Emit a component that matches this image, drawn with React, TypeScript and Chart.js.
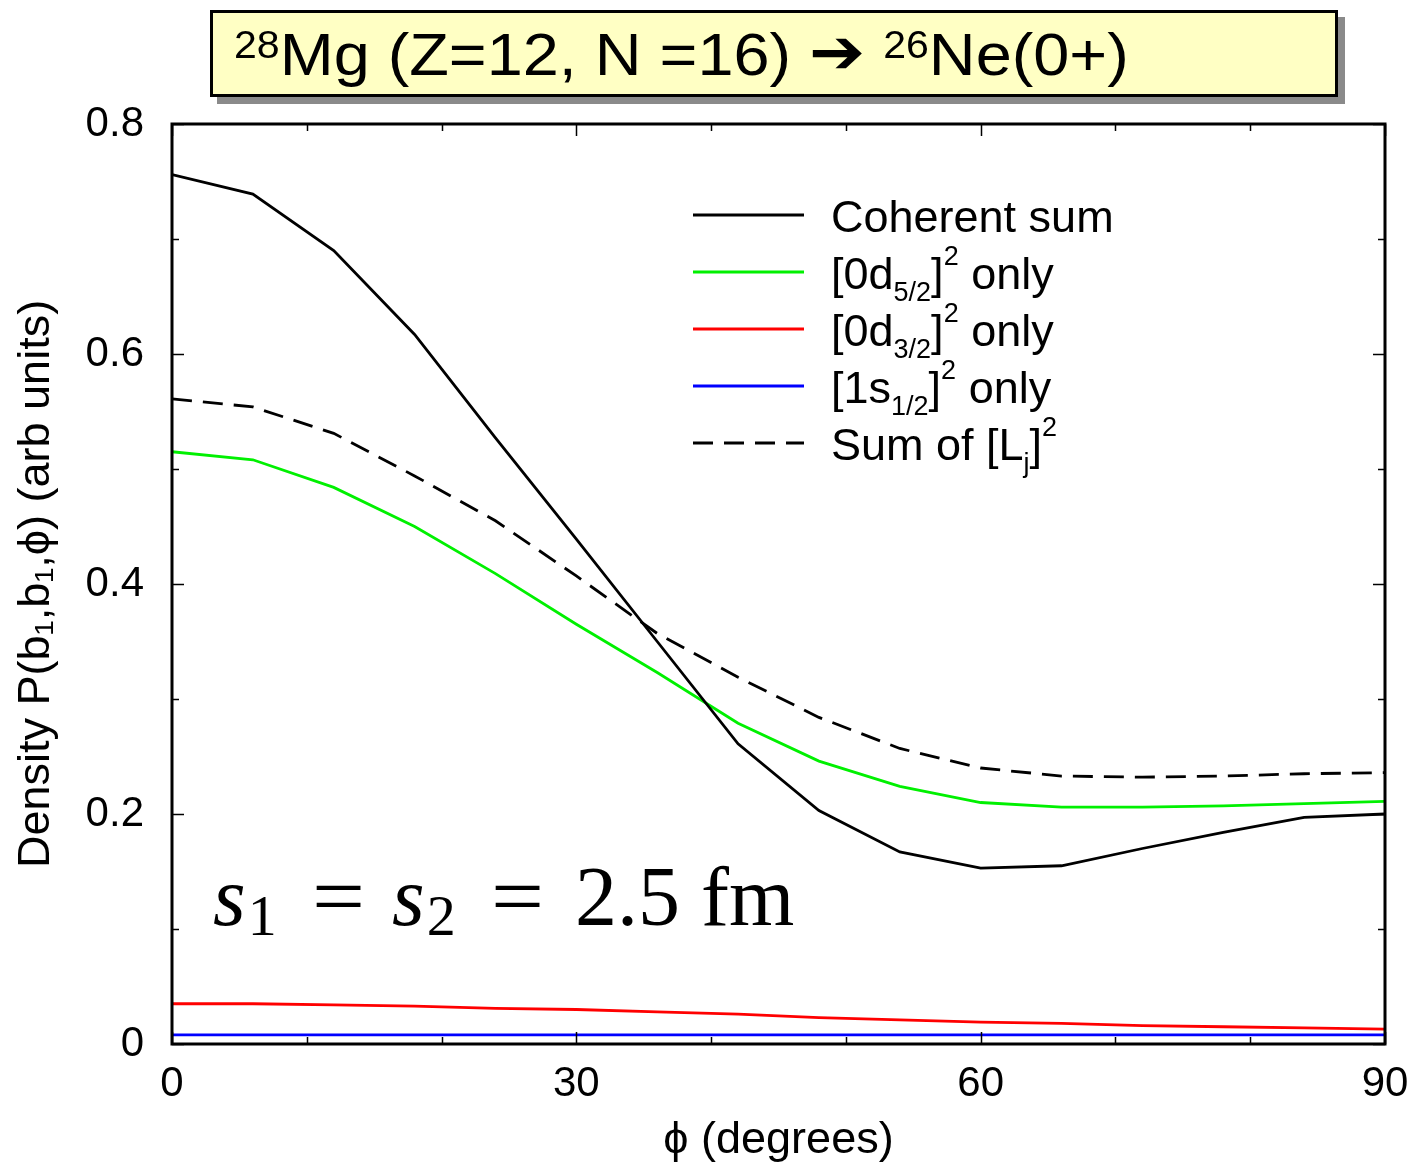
import React, { useEffect, useRef } from "react";
import { Chart, registerables } from "chart.js";

Chart.register(...registerables);

// ---- data ----
const phiDeg = [0, 6, 12, 18, 24, 30, 36, 42, 48, 54, 60, 66, 72, 78, 84, 90];
const coherentSum = [0.756, 0.739, 0.69, 0.617, 0.527, 0.439, 0.35, 0.261, 0.203, 0.167, 0.153, 0.155, 0.17, 0.184, 0.197, 0.2];
const d52Only = [0.515, 0.508, 0.484, 0.45, 0.409, 0.365, 0.323, 0.279, 0.246, 0.224, 0.21, 0.206, 0.206, 0.207, 0.209, 0.211];
const d32Only = [0.035, 0.035, 0.034, 0.033, 0.031, 0.03, 0.028, 0.026, 0.023, 0.021, 0.019, 0.018, 0.016, 0.015, 0.014, 0.013];
const s12Only = [0.008, 0.008, 0.008, 0.008, 0.008, 0.008, 0.008, 0.008, 0.008, 0.008, 0.008, 0.008, 0.008, 0.008, 0.008, 0.008];
const sumLj = [0.561, 0.554, 0.531, 0.494, 0.455, 0.407, 0.357, 0.319, 0.284, 0.257, 0.24, 0.233, 0.232, 0.233, 0.235, 0.236];

const xTickValues = [0, 30, 60, 90];
const yTickValues = [0, 0.2, 0.4, 0.6, 0.8];
const xMinorTicks = [0, 10, 20, 30, 40, 50, 60, 70, 80, 90];
const yMinorTicks = [0, 0.1, 0.2, 0.3, 0.4, 0.5, 0.6, 0.7, 0.8];

const seriesNames = ["Coherent sum", "[0d5/2]^2 only", "[0d3/2]^2 only", "[1s1/2]^2 only", "Sum of [Lj]^2"];
const seriesColors = ["#000000", "#00f000", "#ff0000", "#0000ff", "#000000"];

const SANS = "'Liberation Sans', Arial, Helvetica, sans-serif";
const SERIF = "'Liberation Serif', 'DejaVu Serif', serif";

const W = 1412;
const H = 1168;

const framePlugin = {
  id: "frame",
  afterDraw(chart: any) {
    const { ctx, chartArea } = chart;
    const xs = chart.scales.x;
    const ys = chart.scales.y;
    const { left, right, top, bottom } = chartArea;
    ctx.save();
    ctx.strokeStyle = "#000";
    ctx.lineWidth = 1.5;
    xMinorTicks.forEach((v) => {
      const px = Math.round(xs.getPixelForValue(v)) + 0.5;
      const len = v % 30 === 0 ? 12 : 7;
      ctx.beginPath();
      ctx.moveTo(px, bottom);
      ctx.lineTo(px, bottom - len);
      ctx.moveTo(px, top);
      ctx.lineTo(px, top + len);
      ctx.stroke();
    });
    yMinorTicks.forEach((v) => {
      const py = Math.round(ys.getPixelForValue(v)) + 0.5;
      const major = Math.abs(Math.round(v * 10) % 2) === 0;
      const len = major ? 12 : 7;
      ctx.beginPath();
      ctx.moveTo(left, py);
      ctx.lineTo(left + len, py);
      ctx.moveTo(right, py);
      ctx.lineTo(right - len, py);
      ctx.stroke();
    });
    ctx.lineWidth = 3;
    ctx.strokeRect(left, top, right - left, bottom - top);

    // legend samples
    const lx0 = 693;
    const lx1 = 804;
    const ly0 = 215;
    const dy = 57;
    chart.data.datasets.forEach((ds: any, i: number) => {
      const y = ly0 + i * dy;
      ctx.beginPath();
      ctx.lineWidth = ds.borderWidth;
      ctx.strokeStyle = ds.borderColor;
      ctx.setLineDash(ds.borderDash || []);
      ctx.moveTo(lx0, y);
      ctx.lineTo(lx1, y);
      ctx.stroke();
    });
    ctx.restore();
  },
};

function toPoints(vals: number[]) {
  return phiDeg.map((x, i) => ({ x, y: vals[i] }));
}

function ChartCanvas() {
  const ref = useRef<HTMLCanvasElement | null>(null);
  useEffect(() => {
    if (!ref.current) return;
    const allSeries = [coherentSum, d52Only, d32Only, s12Only, sumLj];
    const chart = new Chart(ref.current, {
      type: "line",
      data: {
        datasets: allSeries.map((vals, i) => ({
          label: seriesNames[i],
          data: toPoints(vals),
          borderColor: seriesColors[i],
          borderWidth: 2.8,
          borderDash: i === 4 ? [20, 11] : [],
          pointRadius: 0,
          tension: 0,
          fill: false,
        })),
      },
      options: {
        responsive: false,
        animation: false,
        devicePixelRatio: 1,
        layout: { padding: { left: 0, right: 27, top: 124, bottom: 0 } },
        plugins: {
          legend: { display: false },
          tooltip: { enabled: false },
          title: { display: false },
        },
        scales: {
          x: {
            type: "linear",
            min: 0,
            max: 90,
            afterFit: (s: any) => {
              s.height = 124;
              s.paddingLeft = 0;
              s.paddingRight = 0;
            },
            afterBuildTicks: (s: any) => {
              s.ticks = xTickValues.map((v) => ({ value: v }));
            },
            grid: { display: false, drawTicks: false },
            border: { display: false },
            ticks: {
              padding: 15,
              color: "#000",
              font: { family: SANS, size: 42 },
              maxRotation: 0,
              callback: (v: any) => String(v),
            },
            title: {
              display: true,
              text: "ϕ (degrees)",
              color: "#000",
              font: { family: SANS, size: 45 },
              padding: { top: 0, bottom: 0 },
            },
          },
          y: {
            type: "linear",
            min: 0,
            max: 0.8,
            afterFit: (s: any) => {
              s.width = 172;
              s.paddingTop = 0;
              s.paddingBottom = 0;
            },
            afterBuildTicks: (s: any) => {
              s.ticks = yTickValues.map((v) => ({ value: v }));
            },
            grid: { display: false, drawTicks: false },
            border: { display: false },
            ticks: {
              padding: 28,
              color: "#000",
              font: { family: SANS, size: 42 },
              callback: (v: any) => (Number(v) === 0 ? "0" : Number(v).toFixed(1)),
            },
            title: {
              display: true,
              text: "Density P(b₁,b₁,ϕ) (arb units)",
              color: "#000",
              font: { family: SANS, size: 45 },
              padding: { top: 10, bottom: 0 },
            },
          },
        },
      },
      plugins: [framePlugin],
    } as any);
    return () => chart.destroy();
  }, []);
  return <canvas ref={ref} width={W} height={H} style={{ display: "block", width: W, height: H }} />;
}

const legendRowStyle = (i: number): React.CSSProperties => ({
  position: "absolute",
  left: 831,
  top: 194 + i * 57,
  fontFamily: SANS,
  fontSize: 45,
  lineHeight: 1,
  whiteSpace: "nowrap",
  color: "#000",
});

const subS: React.CSSProperties = { fontSize: 27, position: "relative", top: 12, verticalAlign: "baseline" };
const supS: React.CSSProperties = { fontSize: 27, position: "relative", top: -24, verticalAlign: "baseline" };

const annBase: React.CSSProperties = {
  position: "absolute",
  top: 855,
  fontFamily: SERIF,
  fontSize: 84,
  lineHeight: 1,
  whiteSpace: "nowrap",
  color: "#000",
};
const annSub: React.CSSProperties = { fontSize: 58, position: "relative", top: 10, marginLeft: 2 };

export default function App() {
  return (
    <div style={{ position: "absolute", left: 0, top: 0, width: W, height: H, background: "#fff", overflow: "hidden" }}>
      <ChartCanvas />
      {/* title box */}
      <div
        style={{
          position: "absolute",
          left: 210,
          top: 10,
          width: 1122,
          height: 81,
          border: "3px solid #000",
          background: "#ffffc4",
          boxShadow: "7px 7px 0 #8a8a8a",
          whiteSpace: "nowrap",
          color: "#000",
        }}
      >
        <div
          style={{
            position: "absolute",
            left: 21,
            top: 0,
            fontFamily: SANS,
            fontSize: 60,
            lineHeight: "82px",
            transform: "scaleX(1.08)",
            transformOrigin: "left center",
          }}
        >
          <span style={{ fontSize: 38, position: "relative", top: -17 }}>28</span>Mg (Z=12, N =16){" "}
          <span style={{ fontFamily: "'DejaVu Sans', sans-serif", fontSize: 62, position: "relative", top: -2 }}>➔</span>{" "}
          <span style={{ fontSize: 38, position: "relative", top: -17 }}>26</span>Ne(0+)
        </div>
      </div>
      {/* legend texts */}
      <div style={legendRowStyle(0)}>Coherent sum</div>
      <div style={legendRowStyle(1)}>
        [0d<span style={subS}>5/2</span>]<span style={supS}>2</span> only
      </div>
      <div style={legendRowStyle(2)}>
        [0d<span style={subS}>3/2</span>]<span style={supS}>2</span> only
      </div>
      <div style={legendRowStyle(3)}>
        [1s<span style={subS}>1/2</span>]<span style={supS}>2</span> only
      </div>
      <div style={legendRowStyle(4)}>
        Sum of [L<span style={subS}>j</span>]<span style={supS}>2</span>
      </div>
      {/* annotation */}
      <div style={{ ...annBase, left: 213 }}>
        <i>s</i>
        <span style={annSub}>1</span>
      </div>
      <div style={{ ...annBase, left: 312, transform: "scaleX(1.12)", transformOrigin: "left center" }}>=</div>
      <div style={{ ...annBase, left: 392 }}>
        <i>s</i>
        <span style={annSub}>2</span>
      </div>
      <div style={{ ...annBase, left: 491, transform: "scaleX(1.12)", transformOrigin: "left center" }}>=</div>
      <div style={{ ...annBase, left: 575 }}>2.5 fm</div>
    </div>
  );
}
